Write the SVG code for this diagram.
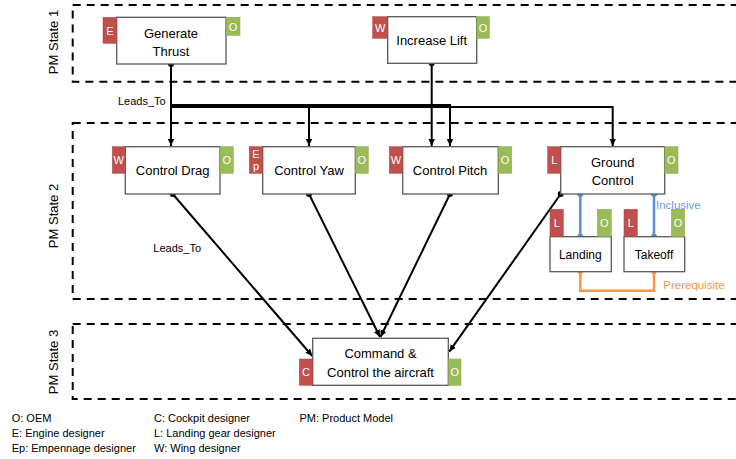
<svg xmlns="http://www.w3.org/2000/svg" width="736" height="459" viewBox="0 0 736 459">
<style>
text{font-family:"Liberation Sans",Arial,sans-serif;fill:#000}
.state{fill:none;stroke:#000;stroke-width:2;stroke-dasharray:8 6}
.box{fill:#fff;stroke:#595959;stroke-width:1.3}
.tr{fill:#C0504D;stroke:#a94442;stroke-width:0.5}
.tg{fill:#9BBB59;stroke:#86a548;stroke-width:0.5}
.tt{fill:#fff;font-size:11px;text-anchor:middle}
.lbl{font-size:13px;text-anchor:middle}
.small{font-size:12px;text-anchor:middle}
.conn{fill:none;stroke:#000;stroke-width:2}
.blue{fill:none;stroke:#5B8FD0;stroke-width:2.5}
.orange{fill:none;stroke:#F79646;stroke-width:2.5}
.leg{font-size:11px}
.st{font-size:13px;text-anchor:middle}
</style>
<defs>
<marker id="arr" markerUnits="userSpaceOnUse" markerWidth="8" markerHeight="8" refX="7" refY="4" orient="auto">
<path d="M0,0.8 L7,4 L0,7.2 z" fill="#000"/>
</marker>
</defs>
<g id="states">
<rect class="state" x="72.7" y="5" width="700" height="76.7"/>
<rect class="state" x="72.7" y="123" width="700" height="176"/>
<rect class="state" x="72.7" y="324" width="700" height="75"/>
<text class="st" transform="translate(58,42) rotate(-90)">PM State 1</text>
<text class="st" transform="translate(58,216) rotate(-90)">PM State 2</text>
<text class="st" transform="translate(58,362) rotate(-90)">PM State 3</text>
</g>
<g id="connectors">
<path class="conn" d="M171,64 V146" marker-end="url(#arr)"/>
<path class="conn" d="M171,64 V105 H309 V146" marker-end="url(#arr)"/>
<path class="conn" d="M171,64 V105 H450 V146" marker-end="url(#arr)"/>
<path class="conn" d="M171,64 V107 H612.7 V146" marker-end="url(#arr)"/>
<path class="conn" d="M431.7,63.3 V146" marker-end="url(#arr)"/>
<path class="conn" d="M172.7,194 L312.3,356" marker-end="url(#arr)"/>
<path class="conn" d="M309,194 L380,337" marker-end="url(#arr)"/>
<path class="conn" d="M450,194 L380.5,337" marker-end="url(#arr)"/>
<path class="conn" d="M560.7,194 L449.3,351.7" marker-end="url(#arr)"/>
<circle cx="171" cy="64" r="3"/>
<circle cx="431.7" cy="63.3" r="3"/>
<circle cx="172.7" cy="194" r="3"/>
<circle cx="309" cy="194" r="3"/>
<circle cx="450" cy="194" r="3"/>
<circle cx="560.7" cy="194" r="3"/>
<text class="leg" x="118" y="104.5">Leads_To</text>
<text class="leg" x="153.3" y="252">Leads_To</text>
<path class="blue" d="M580.3,194 V236.7"/>
<path class="blue" d="M654,194 V236.7"/>
<g fill="#5B8FD0"><circle cx="580.3" cy="194" r="3"/><circle cx="580.3" cy="236.7" r="3"/><circle cx="654" cy="194" r="3"/><circle cx="654" cy="236.7" r="3"/></g>
<text x="656" y="209" style="font-size:11.5px;fill:#6A9BD8">Inclusive</text>
<path class="orange" d="M580.3,271.7 V290.7 H654 V271.7"/>
<g fill="#F79646"><circle cx="580.3" cy="271.7" r="2.5"/><circle cx="654" cy="271.7" r="2.5"/></g>
<text x="663.3" y="289" style="font-size:11.5px;fill:#F79646">Prerequisite</text>
</g>
<g id="generate-thrust">
<rect class="box" x="116.7" y="17.3" width="109.3" height="46.7"/>
<rect class="tr" x="103" y="17.3" width="13.7" height="26"/>
<text class="tt" x="109.8" y="34.5">E</text>
<rect class="tg" x="226" y="17.3" width="14" height="18"/>
<text class="tt" x="233" y="30.5">O</text>
<text class="lbl" x="171" y="37.5">Generate</text>
<text class="lbl" x="171" y="55.5">Thrust</text>
</g>
<g id="increase-lift">
<rect class="box" x="387.7" y="16.7" width="89" height="46.6"/>
<rect class="tr" x="372.7" y="16.7" width="15" height="21.6"/>
<text class="tt" x="380.2" y="31.5">W</text>
<rect class="tg" x="476.7" y="16.7" width="12.6" height="21.6"/>
<text class="tt" x="483" y="31.5">O</text>
<text class="lbl" x="431.7" y="45">Increase Lift</text>
</g>
<g id="control-drag">
<rect class="box" x="125.3" y="146.7" width="94.7" height="47.3"/>
<rect class="tr" x="112.3" y="146.7" width="13" height="26.6"/>
<text class="tt" x="118.8" y="164">W</text>
<rect class="tg" x="220" y="146.7" width="13.3" height="26.6"/>
<text class="tt" x="226.7" y="164">O</text>
<text class="lbl" x="172.7" y="175">Control Drag</text>
</g>
<g id="control-yaw">
<rect class="box" x="262.7" y="146.7" width="92.6" height="47.3"/>
<rect class="tr" x="249.3" y="146.7" width="13.4" height="26.6"/>
<text class="tt" x="256" y="157.5">E</text>
<text class="tt" x="256" y="170">p</text>
<rect class="tg" x="355.3" y="146.7" width="13" height="26.6"/>
<text class="tt" x="361.8" y="164">O</text>
<text class="lbl" x="309" y="175">Control Yaw</text>
</g>
<g id="control-pitch">
<rect class="box" x="402.7" y="146.7" width="95.6" height="47.3"/>
<rect class="tr" x="389.3" y="146.7" width="13.4" height="26.6"/>
<text class="tt" x="396" y="164">W</text>
<rect class="tg" x="498.3" y="146.7" width="13.4" height="26.6"/>
<text class="tt" x="505" y="164">O</text>
<text class="lbl" x="450" y="175">Control Pitch</text>
</g>
<g id="ground-control">
<rect class="box" x="560.7" y="146.7" width="104" height="47.3"/>
<rect class="tr" x="547.7" y="146.7" width="13" height="26.6"/>
<text class="tt" x="554.2" y="164">L</text>
<rect class="tg" x="664.7" y="146.7" width="13.3" height="26.6"/>
<text class="tt" x="671.3" y="164">O</text>
<text class="lbl" x="612.7" y="167">Ground</text>
<text class="lbl" x="612.7" y="184.5">Control</text>
</g>
<g id="landing">
<rect class="box" x="550" y="236.7" width="61.3" height="35"/>
<rect class="tr" x="550" y="209.3" width="13.3" height="27.4"/>
<text class="tt" x="556.7" y="227">L</text>
<rect class="tg" x="597.3" y="209.3" width="14" height="27.4"/>
<text class="tt" x="604.3" y="227">O</text>
<text class="small" x="580.3" y="259">Landing</text>
</g>
<g id="takeoff">
<rect class="box" x="624" y="236.7" width="60.7" height="35"/>
<rect class="tr" x="624" y="209.3" width="13.3" height="27.4"/>
<text class="tt" x="630.7" y="227">L</text>
<rect class="tg" x="671.3" y="209.3" width="13.4" height="27.4"/>
<text class="tt" x="678" y="227">O</text>
<text class="small" x="654" y="259">Takeoff</text>
</g>
<g id="command-control">
<rect class="box" x="312.7" y="338.3" width="135.6" height="47"/>
<rect class="tr" x="299.3" y="359" width="13.4" height="26.3"/>
<text class="tt" x="306" y="376">C</text>
<rect class="tg" x="448.3" y="359" width="12.7" height="26.3"/>
<text class="tt" x="454.7" y="376">O</text>
<text class="lbl" x="380.5" y="358">Command &amp;</text>
<text class="lbl" x="380.5" y="376.5">Control the aircraft</text>
</g>
<g id="legend">
<text class="leg" x="11.7" y="422">O: OEM</text>
<text class="leg" x="11.7" y="437">E: Engine designer</text>
<text class="leg" x="11.7" y="452">Ep: Empennage designer</text>
<text class="leg" x="154" y="422">C: Cockpit designer</text>
<text class="leg" x="154" y="437">L: Landing gear designer</text>
<text class="leg" x="154" y="452">W: Wing designer</text>
<text class="leg" x="299.5" y="422">PM: Product Model</text>
</g>
</svg>
